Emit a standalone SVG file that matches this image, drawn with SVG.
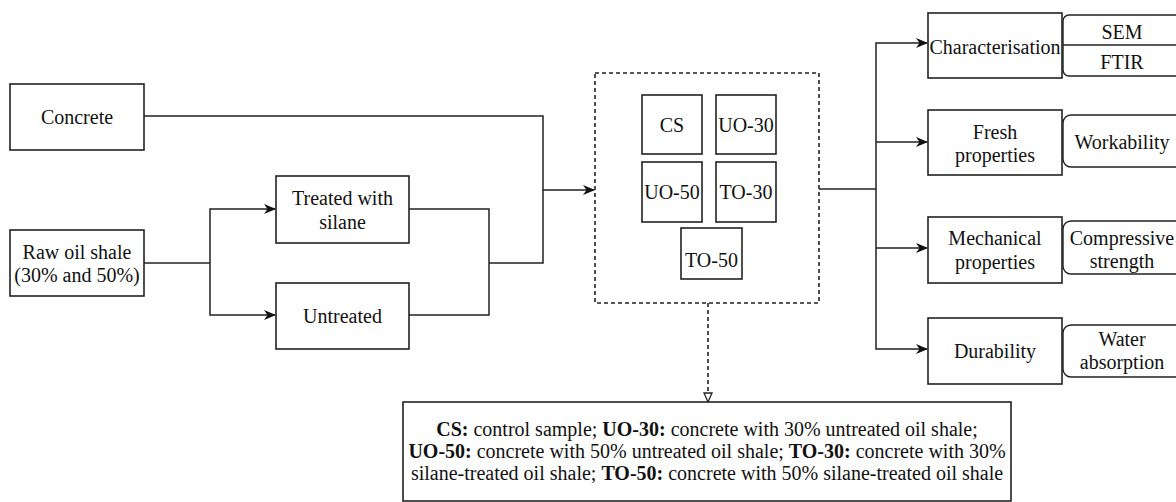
<svg xmlns="http://www.w3.org/2000/svg" width="1176" height="502" viewBox="0 0 1176 502">
<style>
.box{fill:#fff;stroke:#222;stroke-width:1.6}
.sub{fill:#fff;stroke:#222;stroke-width:1.4}
.dash{fill:none;stroke:#222;stroke-width:1.6;stroke-dasharray:4 3}
.ln{fill:none;stroke:#222;stroke-width:1.5}
.t{font-family:'Liberation Serif',Tinos,'Times New Roman',Times,'DejaVu Serif',serif;font-size:20px;fill:#111;text-anchor:middle}
.b{font-weight:bold}
</style>
<defs>
<marker id="arr" markerWidth="12" markerHeight="10" refX="11" refY="5" orient="auto" markerUnits="userSpaceOnUse">
<path d="M0,0 L12,5 L0,10 L3.5,5 z" fill="#111"/>
</marker>
<marker id="tri" markerWidth="12" markerHeight="10" refX="10" refY="5" orient="auto" markerUnits="userSpaceOnUse">
<path d="M1,1 L10,5 L1,9 z" fill="#fff" stroke="#222" stroke-width="1.3"/>
</marker>
</defs>
<g id="connectors">
<polyline class="ln" points="144,116 543,116 543,190 594,190" marker-end="url(#arr)"/>
<polyline class="ln" points="144,263 210,263"/>
<polyline class="ln" points="210,263 210,209 275,209" marker-end="url(#arr)"/>
<polyline class="ln" points="210,263 210,315 275,315" marker-end="url(#arr)"/>
<polyline class="ln" points="409,209 489,209 489,315 409,315"/>
<polyline class="ln" points="489,263 543,263 543,190"/>
<polyline class="ln" points="819,189 876,189"/>
<polyline class="ln" points="876,189 876,43 927,43" marker-end="url(#arr)"/>
<polyline class="ln" points="876,142 927,142" marker-end="url(#arr)"/>
<polyline class="ln" points="876,189 876,349 927,349" marker-end="url(#arr)"/>
<polyline class="ln" points="876,248 927,248" marker-end="url(#arr)"/>
<line class="dash" x1="708" y1="303" x2="708" y2="402" marker-end="url(#tri)"/>
</g>
<g id="concrete"><rect class="box" x="10" y="84" width="134" height="66"/><text class="t" x="77" y="124">Concrete</text></g>
<g id="raw-oil-shale"><rect class="box" x="10" y="230" width="134" height="66"/><text class="t" x="77" y="259">Raw oil shale</text><text class="t" x="77" y="282">(30% and 50%)</text></g>
<g id="treated"><rect class="box" x="276" y="176" width="133" height="67"/><text class="t" x="342.5" y="205">Treated with</text><text class="t" x="342.5" y="229">silane</text></g>
<g id="untreated"><rect class="box" x="276" y="283" width="133" height="66"/><text class="t" x="342.5" y="323">Untreated</text></g>
<g id="samples">
<rect class="dash" x="595" y="73" width="224" height="230"/>
<g id="cs"><rect class="box" x="642" y="95" width="60" height="59"/><text class="t" x="672" y="132">CS</text></g>
<g id="uo30"><rect class="box" x="716" y="95" width="60" height="59"/><text class="t" x="746" y="132">UO-30</text></g>
<g id="uo50"><rect class="box" x="642" y="162" width="60" height="60"/><text class="t" x="672" y="199">UO-50</text></g>
<g id="to30"><rect class="box" x="716" y="162" width="60" height="60"/><text class="t" x="746" y="199">TO-30</text></g>
<g id="to50"><rect class="box" x="681" y="228" width="61" height="51"/><text class="t" x="711.5" y="267">TO-50</text></g>
</g>
<g id="legend"><rect class="box" x="403" y="402" width="608" height="99"/>
<text class="t" x="707" y="436"><tspan class="b">CS:</tspan> control sample; <tspan class="b">UO-30:</tspan> concrete with 30% untreated oil shale;</text>
<text class="t" x="707" y="458"><tspan class="b">UO-50:</tspan> concrete with 50% untreated oil shale; <tspan class="b">TO-30:</tspan> concrete with 30%</text>
<text class="t" x="707" y="480">silane-treated oil shale; <tspan class="b">TO-50:</tspan> concrete with 50% silane-treated oil shale</text>
</g>
<g id="characterisation"><rect class="box" x="928" y="13" width="134" height="65"/><text class="t" x="995" y="54">Characterisation</text></g>
<g id="sem-ftir"><rect class="sub" x="1063" y="15" width="130" height="61" rx="6"/><path class="sub" d="M1063,45 H1193"/><text class="t" x="1122" y="39">SEM</text><text class="t" x="1122" y="69">FTIR</text></g>
<g id="fresh"><rect class="box" x="928" y="110" width="134" height="65"/><text class="t" x="995" y="139">Fresh</text><text class="t" x="995" y="162">properties</text></g>
<g id="workability"><rect class="sub" x="1063" y="115" width="130" height="52" rx="8"/><text class="t" x="1122" y="149">Workability</text></g>
<g id="mechanical"><rect class="box" x="928" y="217" width="134" height="66"/><text class="t" x="995" y="245">Mechanical</text><text class="t" x="995" y="269">properties</text></g>
<g id="compressive"><rect class="sub" x="1063" y="221" width="130" height="53" rx="8"/><text class="t" x="1122" y="245">Compressive</text><text class="t" x="1122" y="268">strength</text></g>
<g id="durability"><rect class="box" x="928" y="318" width="134" height="66"/><text class="t" x="995" y="358">Durability</text></g>
<g id="water"><rect class="sub" x="1063" y="325" width="130" height="52" rx="8"/><text class="t" x="1122" y="346">Water</text><text class="t" x="1122" y="369">absorption</text></g>
</svg>
